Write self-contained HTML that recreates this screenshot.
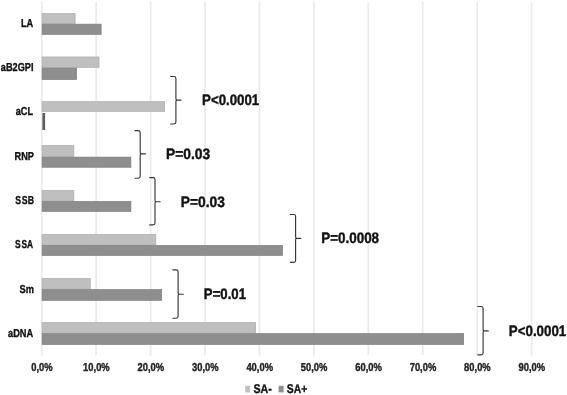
<!DOCTYPE html>
<html lang="en"><head><meta charset="utf-8"><title>Chart</title>
<style>html,body{margin:0;padding:0;background:#fff;width:567px;height:395px;overflow:hidden}</style>
</head><body>
<svg width="567" height="395" viewBox="0 0 567 395" style="display:block;position:absolute;left:0;top:0" font-family="'Liberation Sans', sans-serif" font-weight="bold" text-rendering="geometricPrecision">
<rect width="567" height="395" fill="#fff"/>
<line x1="41.75" y1="1.8" x2="41.75" y2="355.6" stroke="#ebebeb" stroke-width="1.8"/>
<line x1="96.18" y1="1.8" x2="96.18" y2="355.6" stroke="#ebebeb" stroke-width="1.8"/>
<line x1="150.61" y1="1.8" x2="150.61" y2="355.6" stroke="#ebebeb" stroke-width="1.8"/>
<line x1="205.04" y1="1.8" x2="205.04" y2="355.6" stroke="#ebebeb" stroke-width="1.8"/>
<line x1="259.47" y1="1.8" x2="259.47" y2="355.6" stroke="#ebebeb" stroke-width="1.8"/>
<line x1="313.90" y1="1.8" x2="313.90" y2="355.6" stroke="#ebebeb" stroke-width="1.8"/>
<line x1="368.33" y1="1.8" x2="368.33" y2="355.6" stroke="#ebebeb" stroke-width="1.8"/>
<line x1="422.76" y1="1.8" x2="422.76" y2="355.6" stroke="#ebebeb" stroke-width="1.8"/>
<line x1="477.19" y1="1.8" x2="477.19" y2="355.6" stroke="#ebebeb" stroke-width="1.8"/>
<line x1="531.62" y1="1.8" x2="531.62" y2="355.6" stroke="#ebebeb" stroke-width="1.8"/>
<rect x="42.10" y="13.50" width="33.05" height="9.95" fill="#bfbfbf" stroke="#adadad" stroke-width="0.7"/>
<rect x="42.10" y="24.15" width="59.05" height="10.20" fill="#8e8e8e" stroke="#7f7f7f" stroke-width="0.7"/>
<rect x="42.10" y="56.95" width="56.95" height="10.40" fill="#bfbfbf" stroke="#adadad" stroke-width="0.7"/>
<rect x="42.10" y="68.05" width="34.45" height="11.50" fill="#8e8e8e" stroke="#7f7f7f" stroke-width="0.7"/>
<rect x="42.10" y="101.65" width="122.55" height="9.70" fill="#bfbfbf" stroke="#adadad" stroke-width="0.7"/>
<rect x="42.10" y="145.45" width="31.75" height="10.95" fill="#bfbfbf" stroke="#adadad" stroke-width="0.7"/>
<rect x="42.10" y="157.10" width="88.80" height="10.15" fill="#8e8e8e" stroke="#7f7f7f" stroke-width="0.7"/>
<rect x="42.10" y="190.45" width="31.75" height="10.20" fill="#bfbfbf" stroke="#adadad" stroke-width="0.7"/>
<rect x="42.10" y="201.35" width="88.80" height="10.10" fill="#8e8e8e" stroke="#7f7f7f" stroke-width="0.7"/>
<rect x="42.10" y="234.45" width="113.75" height="10.20" fill="#bfbfbf" stroke="#adadad" stroke-width="0.7"/>
<rect x="42.10" y="245.35" width="240.35" height="10.10" fill="#8e8e8e" stroke="#7f7f7f" stroke-width="0.7"/>
<rect x="42.10" y="278.45" width="48.15" height="10.40" fill="#bfbfbf" stroke="#adadad" stroke-width="0.7"/>
<rect x="42.10" y="289.55" width="119.55" height="10.80" fill="#8e8e8e" stroke="#7f7f7f" stroke-width="0.7"/>
<rect x="42.10" y="322.55" width="213.55" height="10.30" fill="#bfbfbf" stroke="#adadad" stroke-width="0.7"/>
<rect x="42.10" y="333.55" width="421.55" height="10.90" fill="#8e8e8e" stroke="#7f7f7f" stroke-width="0.7"/>
<rect x="42.4" y="113" width="2.7" height="17" fill="#5e5e5e"/>
<text transform="translate(33.20,27.00) scale(0.8,1)" font-size="11.5" fill="#111" stroke="#111" stroke-width="0.35" text-anchor="end">LA</text>
<text transform="translate(33.50,71.30) scale(0.8,1)" font-size="11.5" fill="#111" stroke="#111" stroke-width="0.35" text-anchor="end">aB2GPI</text>
<text transform="translate(33.10,115.20) scale(0.8,1)" font-size="11.5" fill="#111" stroke="#111" stroke-width="0.35" text-anchor="end">aCL</text>
<text transform="translate(34.00,159.60) scale(0.8,1)" font-size="11.5" fill="#111" stroke="#111" stroke-width="0.35" text-anchor="end">RNP</text>
<text transform="translate(34.00,203.85) scale(0.76,1)" font-size="11.5" fill="#111" stroke="#111" stroke-width="0.35" text-anchor="end">S<tspan dx="1.1">SB</tspan></text>
<text transform="translate(33.10,248.30) scale(0.73,1)" font-size="11.5" fill="#111" stroke="#111" stroke-width="0.35" text-anchor="end">S<tspan dx="1.1">SA</tspan></text>
<text transform="translate(33.90,292.50) scale(0.8,1)" font-size="11.5" fill="#111" stroke="#111" stroke-width="0.35" text-anchor="end">Sm</text>
<text transform="translate(33.10,336.55) scale(0.8,1)" font-size="11.5" fill="#111" stroke="#111" stroke-width="0.35" text-anchor="end">aDNA</text>
<text transform="translate(41.95,371.30) scale(0.815,1)" font-size="11.5" fill="#222" stroke="#222" stroke-width="0.4" text-anchor="middle">0,0%</text>
<text transform="translate(96.38,371.30) scale(0.815,1)" font-size="11.5" fill="#222" stroke="#222" stroke-width="0.4" text-anchor="middle">10,0%</text>
<text transform="translate(150.81,371.30) scale(0.815,1)" font-size="11.5" fill="#222" stroke="#222" stroke-width="0.4" text-anchor="middle">20,0%</text>
<text transform="translate(205.24,371.30) scale(0.815,1)" font-size="11.5" fill="#222" stroke="#222" stroke-width="0.4" text-anchor="middle">30,0%</text>
<text transform="translate(259.67,371.30) scale(0.815,1)" font-size="11.5" fill="#222" stroke="#222" stroke-width="0.4" text-anchor="middle">40,0%</text>
<text transform="translate(314.10,371.30) scale(0.815,1)" font-size="11.5" fill="#222" stroke="#222" stroke-width="0.4" text-anchor="middle">50,0%</text>
<text transform="translate(368.53,371.30) scale(0.815,1)" font-size="11.5" fill="#222" stroke="#222" stroke-width="0.4" text-anchor="middle">60,0%</text>
<text transform="translate(422.96,371.30) scale(0.815,1)" font-size="11.5" fill="#222" stroke="#222" stroke-width="0.4" text-anchor="middle">70,0%</text>
<text transform="translate(477.39,371.30) scale(0.815,1)" font-size="11.5" fill="#222" stroke="#222" stroke-width="0.4" text-anchor="middle">80,0%</text>
<text transform="translate(531.82,371.30) scale(0.815,1)" font-size="11.5" fill="#222" stroke="#222" stroke-width="0.4" text-anchor="middle">90,0%</text>
<rect x="245.2" y="385.8" width="4.8" height="6.6" fill="#bfbfbf"/>
<text transform="translate(253.40,393.00) scale(0.85,1)" font-size="12.5" fill="#111" stroke="#111" stroke-width="0.35" text-anchor="start">SA-</text>
<rect x="278.6" y="385.8" width="5" height="6.6" fill="#8e8e8e"/>
<text transform="translate(286.80,393.00) scale(0.83,1)" font-size="12.5" fill="#111" stroke="#111" stroke-width="0.35" text-anchor="start">SA+</text>
<path d="M170.20,76.50 H174.00 Q175.90,76.50 175.90,78.40 V98.80 Q175.90,100.10 177.20,100.10 H181.10 H177.20 Q175.90,100.10 175.90,101.40 V122.10 Q175.90,124.00 174.00,124.00 H170.20" fill="none" stroke="#363636" stroke-width="1.15" stroke-linejoin="round"/>
<path d="M134.50,130.60 H138.30 Q140.20,130.60 140.20,132.50 V152.60 Q140.20,153.90 141.50,153.90 H145.40 H141.50 Q140.20,153.90 140.20,155.20 V176.30 Q140.20,178.20 138.30,178.20 H134.50" fill="none" stroke="#363636" stroke-width="1.15" stroke-linejoin="round"/>
<path d="M149.30,177.60 H153.10 Q155.00,177.60 155.00,179.50 V200.40 Q155.00,201.70 156.30,201.70 H160.20 H156.30 Q155.00,201.70 155.00,203.00 V222.90 Q155.00,224.80 153.10,224.80 H149.30" fill="none" stroke="#363636" stroke-width="1.15" stroke-linejoin="round"/>
<path d="M289.90,214.50 H293.70 Q295.60,214.50 295.60,216.40 V237.10 Q295.60,238.40 296.90,238.40 H300.80 H296.90 Q295.60,238.40 295.60,239.70 V260.40 Q295.60,262.30 293.70,262.30 H289.90" fill="none" stroke="#363636" stroke-width="1.15" stroke-linejoin="round"/>
<path d="M172.40,269.85 H176.20 Q178.10,269.85 178.10,271.75 V292.90 Q178.10,294.20 179.40,294.20 H183.30 H179.40 Q178.10,294.20 178.10,295.50 V316.35 Q178.10,318.25 176.20,318.25 H172.40" fill="none" stroke="#363636" stroke-width="1.15" stroke-linejoin="round"/>
<path d="M477.40,306.50 H481.20 Q483.10,306.50 483.10,308.40 V329.60 Q483.10,330.90 484.40,330.90 H488.30 H484.40 Q483.10,330.90 483.10,332.20 V352.90 Q483.10,354.80 481.20,354.80 H477.40" fill="none" stroke="#363636" stroke-width="1.15" stroke-linejoin="round"/>
<text transform="translate(202.10,104.55) scale(0.872,1)" font-size="15.2" fill="#111" stroke="#111" stroke-width="0.42" text-anchor="start">P&lt;0.0001</text>
<text transform="translate(166.05,159.10) scale(0.908,1)" font-size="15.2" fill="#111" stroke="#111" stroke-width="0.42" text-anchor="start">P=0.03</text>
<text transform="translate(180.85,206.60) scale(0.908,1)" font-size="15.2" fill="#111" stroke="#111" stroke-width="0.42" text-anchor="start">P=0.03</text>
<text transform="translate(321.20,243.05) scale(0.884,1)" font-size="15.2" fill="#111" stroke="#111" stroke-width="0.42" text-anchor="start">P=0.0008</text>
<text transform="translate(203.85,298.70) scale(0.868,1)" font-size="15.2" fill="#111" stroke="#111" stroke-width="0.42" text-anchor="start">P=0.01</text>
<text transform="translate(508.85,335.60) scale(0.876,1)" font-size="15.2" fill="#111" stroke="#111" stroke-width="0.42" text-anchor="start">P&lt;0.0001</text>
</svg>
</body></html>
